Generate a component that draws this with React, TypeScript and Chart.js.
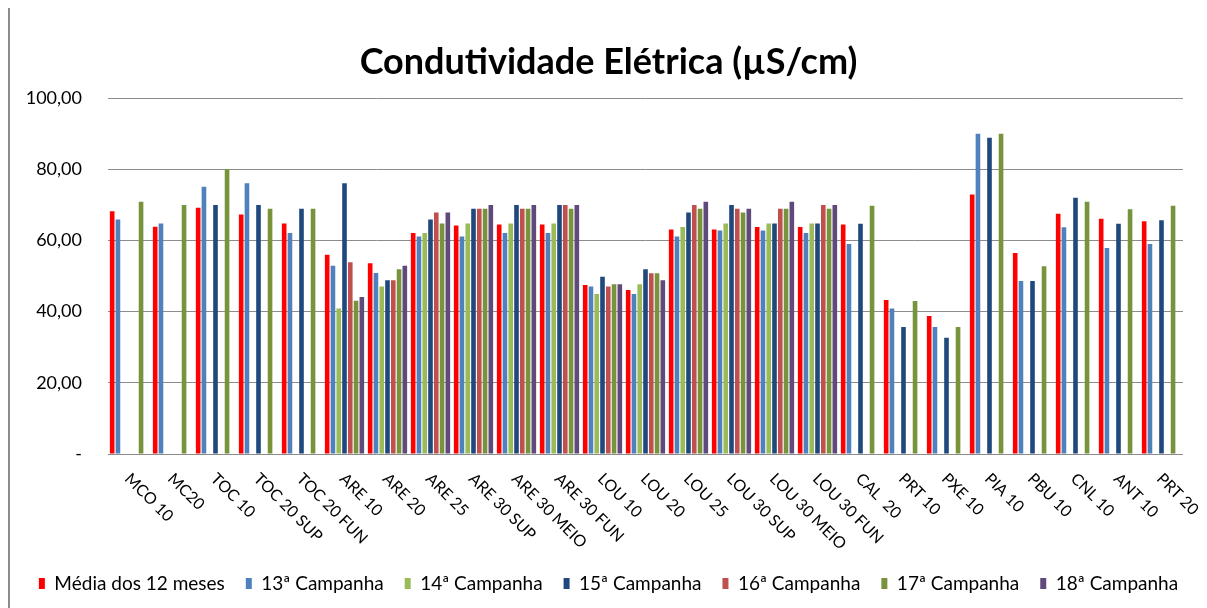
import React, { useEffect, useRef } from "react";
import { Chart, registerables } from "chart.js";

Chart.register(...registerables);

const categories = [
  "MCO 10", "MC20", "TOC 10", "TOC 20 SUP", "TOC 20 FUN", "ARE 10", "ARE 20", "ARE 25",
  "ARE 30 SUP", "ARE 30 MEIO", "ARE 30 FUN", "LOU 10", "LOU 20", "LOU 25", "LOU 30 SUP",
  "LOU 30 MEIO", "LOU 30 FUN", "CAL  20", "PRT 10", "PXE 10", "PIA 10", "PBU 10", "CNL 10",
  "ANT 10", "PRT 20",
];

const media12 = [68.2, 63.9, 69.2, 67.3, 64.8, 56.0, 53.6, 62.1, 64.2, 64.5, 64.5, 47.5, 46.1, 63.1, 63.1, 63.8, 63.8, 64.5, 43.3, 38.8, 72.9, 56.5, 67.5, 66.1, 65.4];
const camp13 = [65.9, 64.8, 75.1, 76.1, 62.1, 52.9, 50.9, 61.1, 61.1, 62.1, 62.1, 47.1, 45.0, 61.1, 62.8, 62.8, 62.1, 59.0, 40.9, 35.7, 90.0, 48.6, 63.7, 57.9, 59.0];
const camp14 = [null, null, null, null, null, 40.9, 47.1, 62.1, 64.8, 64.8, 64.8, 45.0, 47.7, 63.8, 64.8, 64.8, 64.8, null, null, null, null, null, null, null, null];
const camp15 = [null, null, 70.0, 70.0, 68.9, 76.1, 48.8, 65.9, 68.9, 70.0, 70.0, 49.8, 51.9, 67.9, 70.0, 64.8, 64.8, 64.7, 35.7, 32.7, 88.9, 48.6, 72.0, 64.7, 65.7];
const camp16 = [null, null, null, null, null, 53.9, 48.8, 67.9, 68.9, 68.9, 70.0, 47.1, 50.8, 70.0, 68.9, 68.9, 70.0, null, null, null, null, null, null, null, null];
const camp17 = [70.9, 70.0, 80.0, 68.9, 68.9, 43.1, 51.9, 64.8, 68.9, 68.9, 68.9, 47.7, 50.8, 68.9, 67.9, 68.9, 68.9, 69.8, 43.0, 35.7, 90.0, 52.8, 70.9, 68.8, 69.8];
const camp18 = [null, null, null, null, null, 44.1, 52.9, 67.9, 70.0, 70.0, 70.0, 47.7, 48.8, 70.9, 68.9, 70.9, 70.0, null, null, null, null, null, null, null, null];

const seriesNames = ["Média dos 12 meses", "13ª Campanha", "14ª Campanha", "15ª Campanha", "16ª Campanha", "17ª Campanha", "18ª Campanha"];
const seriesColors = ["#FF0000", "#4F81BD", "#9BBB59", "#1F497D", "#C0504D", "#77933C", "#604A7B"];
const seriesData = [media12, camp13, camp14, camp15, camp16, camp17, camp18];

const yTicks = [0, 20, 40, 60, 80, 100];
const titleText = "Condutividade Elétrica (µS/cm)";

const FONT = "Lato, 'DejaVu Sans', sans-serif";

const rotatedLabels = {
  id: "rotatedLabels",
  afterDraw(chart: any) {
    const { ctx, chartArea } = chart;
    const x = chart.scales.x;
    ctx.save();
    ctx.font = `16px ${FONT}`;
    ctx.fillStyle = "#000";
    ctx.textAlign = "left";
    ctx.textBaseline = "middle";
    categories.forEach((lab, i) => {
      const px = x.getPixelForValue(i);
      ctx.save();
      ctx.translate(px - 2, chartArea.bottom + 22);
      ctx.rotate(Math.PI / 4);
      ctx.fillText(lab, 0, 0);
      ctx.restore();
    });
    ctx.restore();
  },
};

export default function App() {
  const ref = useRef<HTMLCanvasElement>(null);
  useEffect(() => {
    if (!ref.current) return;
    const chart = new Chart(ref.current, {
      type: "bar",
      data: {
        labels: categories,
        datasets: seriesData.map((d, i) => ({
          label: seriesNames[i],
          data: d,
          backgroundColor: seriesColors[i],
          borderWidth: 0,
          barPercentage: 0.8,
          categoryPercentage: 0.94,
        })),
      },
      options: {
        animation: false,
        responsive: false,
        maintainAspectRatio: false,
        layout: { padding: { left: 0, right: 0, top: 0, bottom: 5 } },
        plugins: {
          title: {
            display: true,
            text: titleText,
            color: "#000",
            font: { family: FONT, size: 36, weight: "bold" },
            padding: { top: 33, bottom: 14 },
          },
          legend: {
            position: "bottom",
            labels: {
              color: "#000",
              font: { family: FONT, size: 19 },
              boxWidth: 6,
              boxHeight: 11,
              padding: 21,
            },
          },
          tooltip: { enabled: false },
        },
        scales: {
          x: {
            grid: { display: false },
            border: { display: false },
            ticks: { display: false },
            afterFit: (s: any) => { s.height = 99; },
          },
          y: {
            min: 0,
            max: 100,
            afterBuildTicks: (s: any) => { s.ticks = yTicks.map((v) => ({ value: v })); },
            afterFit: (s: any) => { s.width = 98; },
            border: { display: false },
            grid: { color: "#8c8c8c", lineWidth: 1, drawTicks: false },
            ticks: {
              color: "#000",
              padding: 26,
              font: { family: FONT, size: 18 },
              callback: (v: any) => (v === 0 ? "-" : Number(v).toFixed(2).replace(".", ",")),
            },
          },
          yRight: {
            position: "right",
            display: true,
            min: 0,
            max: 100,
            grid: { display: false },
            border: { display: false },
            ticks: { display: false },
            afterFit: (s: any) => { s.width = 24; },
          },
        },
      },
      plugins: [rotatedLabels],
    });
    return () => chart.destroy();
  }, []);
  return (
    <div style={{ width: 1197, height: 600, borderLeft: "2px solid #8c8c8c", background: "#fff" }}>
      <canvas ref={ref} width={1197} height={600} style={{ display: "block" }} />
    </div>
  );
}
